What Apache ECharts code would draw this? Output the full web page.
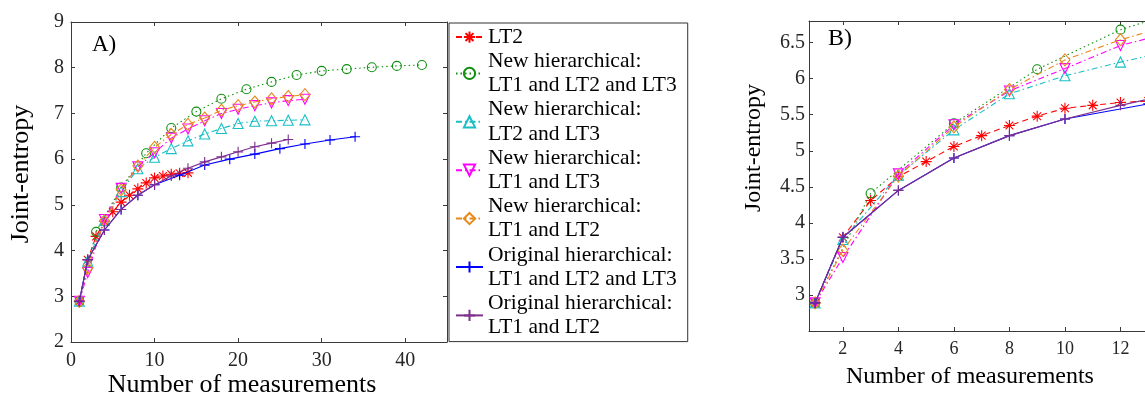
<!DOCTYPE html>
<html>
<head>
<meta charset="utf-8">
<script src="https://cdn.jsdelivr.net/npm/echarts@6/dist/echarts.min.js"></script>
<style>
  html, body { margin: 0; padding: 0; background: #fff; overflow: hidden; }
  #chart { width: 1145px; height: 399px; font-family: "Liberation Serif", serif; }
</style>
</head>
<body>
<div id="chart"></div>
<script>
// Joint-entropy against number of measurements for several measurement strategies.
const FAMILY = '"Liberation Serif", "Times New Roman", serif';

// LT2 alone
const lt2X = [1, 2, 3, 4, 5, 6, 7, 8, 9, 10, 11, 12, 13, 14];
const lt2Y = [2.89, 3.80, 4.31, 4.64, 4.85, 5.06, 5.21, 5.35, 5.48, 5.59, 5.63, 5.67, 5.69, 5.70];

// New hierarchical: LT1 and LT2 and LT3
const newAllX = [1, 3, 6, 9, 12, 15, 18, 21, 24, 27, 30, 33, 36, 39, 42];
const newAllY = [2.89, 4.41, 5.38, 6.13, 6.68, 7.04, 7.32, 7.53, 7.69, 7.84, 7.93, 7.97, 8.01, 8.04, 8.06];

// Measurement counts shared by the two-instrument new hierarchical runs
const pairX = [1, 2, 4, 6, 8, 10, 12, 14, 16, 18, 20, 22, 24, 26, 28];
const newLt23Y = [2.89, 3.77, 4.66, 5.29, 5.79, 6.04, 6.23, 6.40, 6.55, 6.67, 6.78, 6.83, 6.84, 6.85, 6.86];
const newLt13Y = [2.89, 3.52, 4.68, 5.36, 5.83, 6.14, 6.46, 6.66, 6.84, 7.00, 7.09, 7.17, 7.23, 7.28, 7.31];
const newLt12Y = [2.89, 3.62, 4.65, 5.33, 5.85, 6.26, 6.54, 6.76, 6.90, 7.07, 7.17, 7.25, 7.32, 7.37, 7.41];

// Original hierarchical: LT1 and LT2 and LT3
const origAllX = [1, 2, 4, 6, 8, 10, 13, 16, 19, 22, 25, 28, 31, 34];
const origAllY = [2.89, 3.80, 4.45, 4.90, 5.21, 5.44, 5.65, 5.87, 6.00, 6.11, 6.23, 6.33, 6.42, 6.49];

// Original hierarchical: LT1 and LT2
const origLt12X = [1, 2, 4, 6, 8, 10, 12, 14, 16, 18, 20, 22, 24, 26];
const origLt12Y = [2.89, 3.80, 4.45, 4.90, 5.21, 5.44, 5.63, 5.80, 5.94, 6.05, 6.16, 6.27, 6.35, 6.43];

// Tick labels
const ticksAX = [0, 10, 20, 30, 40];
const ticksAY = [2, 3, 4, 5, 6, 7, 8, 9];
const ticksBX = [2, 4, 6, 8, 10, 12, 14];
const ticksBY = [3, 3.5, 4, 4.5, 5, 5.5, 6, 6.5];

// Open marker outlines
const STAR = 'path://M0,5L10,5M5,0L5,10M1.46,1.46L8.54,8.54M1.46,8.54L8.54,1.46';
const PLUS = 'path://M0,5L10,5M5,0L5,10';
const TRI_UP = 'path://M5,0L10,8.66L0,8.66Z';
const TRI_DN = 'path://M0,0L10,0L5,8.66Z';

const DASH = [6, 4];
const DOT = [1.5, 3];
const DASHDOT = [6, 3, 1.5, 3];

const defs = [
  { name: 'LT2', x: lt2X, y: lt2Y, color: '#ff0000', dash: DASH, symbol: STAR, size: 11 },
  { name: 'New hierarchical:\nLT1 and LT2 and LT3', x: newAllX, y: newAllY, color: '#108f10', dash: DOT, symbol: 'circle', size: 9 },
  { name: 'New hierarchical:\nLT2 and LT3', x: pairX, y: newLt23Y, color: '#19bfc6', dash: DASHDOT, symbol: TRI_UP, size: 10 },
  { name: 'New hierarchical:\nLT1 and LT3', x: pairX, y: newLt13Y, color: '#ff00ff', dash: DASHDOT, symbol: TRI_DN, size: 10 },
  { name: 'New hierarchical:\nLT1 and LT2', x: pairX, y: newLt12Y, color: '#e8891a', dash: DASHDOT, symbol: 'diamond', size: [10, 12] },
  { name: 'Original hierarchical:\nLT1 and LT2 and LT3', x: origAllX, y: origAllY, color: '#0000ff', dash: 'solid', symbol: PLUS, size: 10 },
  { name: 'Original hierarchical:\nLT1 and LT2', x: origLt12X, y: origLt12Y, color: '#7e2f8e', dash: 'solid', symbol: PLUS, size: 10 }
];

function makeSeries(d, i, xIdx, yIdx) {
  return {
    type: 'line',
    name: d.name,
    xAxisIndex: xIdx,
    yAxisIndex: yIdx,
    data: d.x.map((v, k) => [v, d.y[k]]),
    symbol: d.symbol,
    symbolSize: d.size,
    showAllSymbol: true,
    clip: true,
    color: d.color,
    lineStyle: { color: d.color, width: 1.1, type: d.dash },
    itemStyle: { color: 'rgba(0,0,0,0)', borderColor: d.color, borderWidth: 1.1 },
    emphasis: { disabled: true },
    z: 2 + i
  };
}

const series = [];
defs.forEach((d, i) => series.push(makeSeries(d, i, 0, 0)));
defs.forEach((d, i) => series.push(makeSeries(d, i, 2, 2)));

const AXIS_COLOR = '#3a3a3a';
const LABEL_COLOR = '#262626';

function frameAxis(pos, gridIndex, min, max, ticks) {
  return {
    type: 'value', gridIndex, position: pos, min, max,
    axisLine: { show: true, onZero: false, lineStyle: { color: AXIS_COLOR, width: 1 } },
    axisTick: { show: true, inside: true, length: 4, customValues: ticks, lineStyle: { color: AXIS_COLOR } },
    axisLabel: { show: false },
    splitLine: { show: false }
  };
}

function mainAxis(pos, gridIndex, min, max, ticks, size, margin) {
  return {
    type: 'value', gridIndex, position: pos, min, max,
    axisLine: { show: true, onZero: false, lineStyle: { color: AXIS_COLOR, width: 1 } },
    axisTick: { show: true, inside: true, length: 4, customValues: ticks, lineStyle: { color: AXIS_COLOR } },
    axisLabel: {
      show: true, customValues: ticks, margin,
      color: LABEL_COLOR, fontFamily: FAMILY, fontSize: size
    },
    splitLine: { show: false }
  };
}

const option = {
  animation: false,
  backgroundColor: '#fff',
  textStyle: { fontFamily: FAMILY },
  grid: [
    { left: 71, top: 22, width: 376, height: 320, containLabel: false, outerBoundsMode: 'none' },
    { left: 809, top: 21, width: 367, height: 310, containLabel: false, outerBoundsMode: 'none' }
  ],
  xAxis: [
    mainAxis('bottom', 0, 0, 45, ticksAX, 20, 9),
    frameAxis('top', 0, 0, 45, ticksAX),
    mainAxis('bottom', 1, 0.78, 14, ticksBX, 18, 9),
    frameAxis('top', 1, 0.78, 14, ticksBX)
  ],
  yAxis: [
    mainAxis('left', 0, 2, 9, ticksAY, 20, 7),
    frameAxis('right', 0, 2, 9, ticksAY),
    mainAxis('left', 1, 2.5, 6.8, ticksBY, 20, 4),
    frameAxis('right', 1, 2.5, 6.8, ticksBY)
  ],
  legend: {
    data: defs.map(d => d.name),
    orient: 'vertical',
    left: 449,
    top: 23,
    padding: [2, 11, 2, 6],
    itemGap: 0,
    itemWidth: 27,
    itemHeight: 14,
    selectedMode: false,
    borderColor: '#333',
    borderWidth: 1,
    backgroundColor: '#fff',
    textStyle: { fontFamily: FAMILY, fontSize: 21.5, lineHeight: 24.2, color: '#000' }
  },
  graphic: [
    { type: 'text', left: 92, top: 33, style: { text: 'A)', fontFamily: FAMILY, fontSize: 23, fill: '#000' } },
    { type: 'text', left: 828, top: 27, style: { text: 'B)', fontFamily: FAMILY, fontSize: 24, fill: '#000' } },
    { type: 'text', x: 242, y: 385, style: { text: 'Number of measurements', fontFamily: FAMILY, fontSize: 26, fill: '#000', align: 'center', verticalAlign: 'middle' } },
    { type: 'text', x: 21, y: 174, rotation: Math.PI / 2, style: { text: 'Joint-entropy', fontFamily: FAMILY, fontSize: 26, fill: '#000', align: 'center', verticalAlign: 'middle' } },
    { type: 'text', x: 970, y: 377, style: { text: 'Number of measurements', fontFamily: FAMILY, fontSize: 24, fill: '#000', align: 'center', verticalAlign: 'middle' } },
    { type: 'text', x: 754, y: 148, rotation: Math.PI / 2, style: { text: 'Joint-entropy', fontFamily: FAMILY, fontSize: 24, fill: '#000', align: 'center', verticalAlign: 'middle' } }
  ],
  series
};

const chart = echarts.init(document.getElementById('chart'), null, { renderer: 'canvas' });
chart.setOption(option);
</script>
</body>
</html>
